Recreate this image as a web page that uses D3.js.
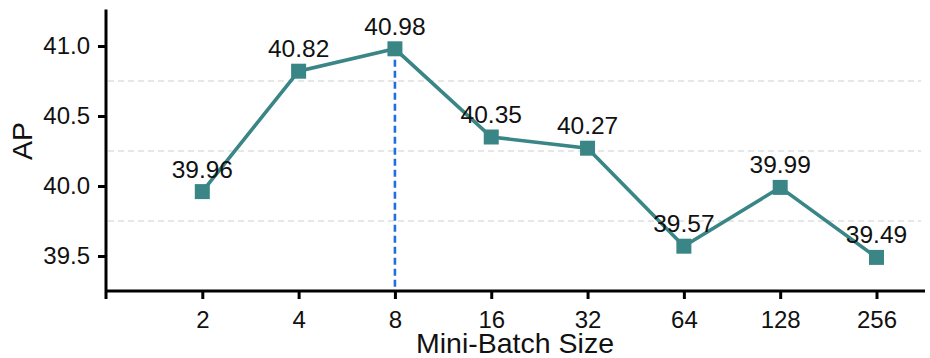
<!DOCTYPE html>
<html>
<head>
<meta charset="utf-8">
<script src="https://cdn.jsdelivr.net/npm/d3@7"></script>
<style>
  html, body { margin: 0; padding: 0; background: #fff; }
  svg { display: block; font-family: Arial, "Liberation Sans", sans-serif; }
</style>
</head>
<body>
<svg id="chart" width="930" height="358"></svg>
<script>
const categories = ["2", "4", "8", "16", "32", "64", "128", "256"];
const apValues = [39.96, 40.82, 40.98, 40.35, 40.27, 39.57, 39.99, 39.49];
const yTickValues = [39.5, 40.0, 40.5, 41.0];
const gridValues = [39.75, 40.25, 40.75];
const highlightCategory = "8";
const xTitle = "Mini-Batch Size";
const yTitle = "AP";

const W = 930, H = 358;
const axisX = 106, axisY = 291, axisRight = 925, axisTop = 9.5;
const lineColor = "#3a8686";

const svg = d3.select("#chart");

const x = d3.scalePoint().domain(categories).range([202.3, 876.5]);
const y = d3.scaleLinear().domain([39.25, 41.26]).range([axisY, axisY - 2.01 * 140]);

// grid lines
svg.append("g").selectAll("line").data(gridValues).join("line")
  .attr("x1", axisX + 2).attr("x2", 921)
  .attr("y1", d => y(d)).attr("y2", d => y(d))
  .attr("stroke", "#d0d0d0").attr("stroke-width", 1.2)
  .attr("stroke-dasharray", "6,4");

// highlight dashed vertical line
const hi = categories.indexOf(highlightCategory);
svg.append("line")
  .attr("x1", x(highlightCategory)).attr("x2", x(highlightCategory))
  .attr("y1", y(apValues[hi])).attr("y2", axisY)
  .attr("stroke", "#1f6fe0").attr("stroke-width", 2.6)
  .attr("stroke-dasharray", "7,4");

// axes
const gx = svg.append("g").attr("transform", `translate(0,${axisY})`)
  .call(d3.axisBottom(x).tickSize(8).tickSizeOuter(0).tickPadding(12));
gx.select(".domain").remove();
gx.selectAll(".tick line").attr("stroke", "#000").attr("stroke-width", 3);
gx.selectAll(".tick text").attr("font-size", 24).attr("fill", "#111")
  .attr("font-family", "Arial, 'Liberation Sans', sans-serif");

const gy = svg.append("g").attr("transform", `translate(${axisX},0)`)
  .call(d3.axisLeft(y).tickValues(yTickValues).tickFormat(d3.format(".1f")).tickSize(8).tickSizeOuter(0).tickPadding(8));
gy.select(".domain").remove();
gy.selectAll(".tick line").attr("stroke", "#000").attr("stroke-width", 3);
gy.selectAll(".tick text").attr("font-size", 24).attr("fill", "#111")
  .attr("font-family", "Arial, 'Liberation Sans', sans-serif");

// spines
svg.append("line").attr("x1", axisX).attr("x2", axisRight).attr("y1", axisY).attr("y2", axisY)
  .attr("stroke", "#000").attr("stroke-width", 3);
svg.append("line").attr("x1", axisX).attr("x2", axisX).attr("y1", axisTop).attr("y2", axisY + 8)
  .attr("stroke", "#000").attr("stroke-width", 3);

// line
const pts = categories.map((c, i) => ({c, v: apValues[i]}));
svg.append("path").datum(pts)
  .attr("fill", "none").attr("stroke", lineColor).attr("stroke-width", 3.6)
  .attr("d", d3.line().x(d => x(d.c)).y(d => y(d.v)));

// markers
const ms = 15;
svg.append("g").selectAll("rect").data(pts).join("rect")
  .attr("x", d => x(d.c) - ms / 2).attr("y", d => y(d.v) - ms / 2)
  .attr("width", ms).attr("height", ms)
  .attr("fill", lineColor);

// value labels
svg.append("g").selectAll("text").data(pts).join("text")
  .attr("x", d => x(d.c)).attr("y", d => y(d.v) - 14)
  .attr("text-anchor", "middle").attr("font-size", 24.5).attr("fill", "#111")
  .text(d => d.v.toFixed(2));

// titles
svg.append("text").attr("x", 515).attr("y", 353)
  .attr("text-anchor", "middle").attr("font-size", 28.5).attr("fill", "#111")
  .text(xTitle);
svg.append("text").attr("transform", "translate(32,141) rotate(-90)")
  .attr("text-anchor", "middle").attr("font-size", 28.5).attr("fill", "#111")
  .text(yTitle);
</script>
</body>
</html>
